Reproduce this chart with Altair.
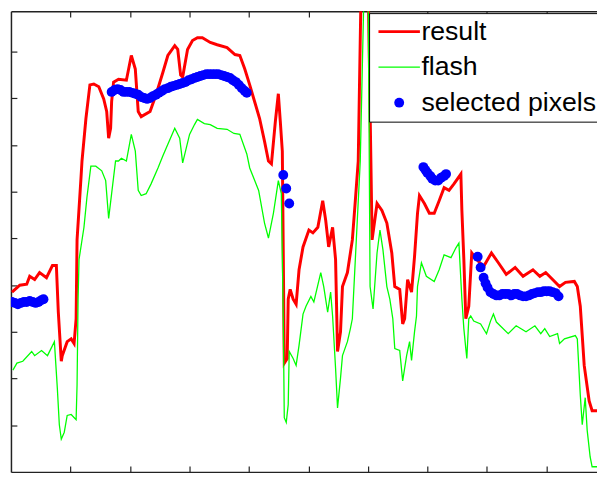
import altair as alt
import pandas as pd

# ---- data ----
result_x = [0.17, 1.49, 2.65, 3.15, 3.98, 4.81, 5.97, 6.97, 7.63, 7.96, 8.46, 8.62, 9.45, 10.12, 10.61,
            10.95, 11.11, 11.77, 11.94, 12.60, 13.27, 13.93, 14.76, 15.59, 16.09, 16.42, 16.75, 16.92,
            17.25, 18.08, 19.40, 20.23, 20.90, 21.39, 21.89, 23.38, 24.38, 25.54, 26.37, 27.53, 28.03,
            28.52, 28.86, 29.68, 30.51, 31.34, 32.17, 33.50, 34.66, 36.32, 37.65, 38.47, 39.30, 40.13,
            40.96, 41.79, 42.62, 43.28, 43.78, 44.44, 44.94, 45.27, 45.61, 45.94, 46.43, 46.60, 46.93,
            47.43, 47.93, 48.42, 49.09, 50.08, 50.75, 51.58, 52.40, 52.90, 53.40, 54.06, 54.56, 54.89,
            55.39, 55.72, 56.55, 57.38, 57.88, 58.37, 58.87, 60.03, 60.70, 61.53, 62.35, 63.18, 64.01,
            64.51, 65.34, 65.84, 66.17, 66.67, 67.33, 67.83, 68.33, 68.66, 69.49, 70.32, 71.14, 71.97,
            72.80, 73.63, 74.46, 75.62, 75.79, 76.12, 76.45, 76.95, 77.45, 78.28, 79.44, 80.76, 81.92,
            83.25, 84.74, 86.07, 87.73, 88.89, 89.88, 91.04, 92.21, 93.20, 94.69, 95.19, 95.69, 96.02,
            96.35, 97.18, 97.68, 98.51]
result_y = [0.385, 0.400, 0.402, 0.419, 0.412, 0.427, 0.416, 0.442, 0.442, 0.342, 0.237, 0.249, 0.279,
            0.285, 0.275, 0.328, 0.497, 0.630, 0.666, 0.757, 0.829, 0.831, 0.825, 0.799, 0.772, 0.715,
            0.736, 0.793, 0.835, 0.841, 0.839, 0.892, 0.863, 0.772, 0.761, 0.772, 0.808, 0.856, 0.892,
            0.913, 0.905, 0.850, 0.846, 0.905, 0.924, 0.930, 0.930, 0.920, 0.915, 0.909, 0.894, 0.892,
            0.863, 0.829, 0.793, 0.757, 0.708, 0.666, 0.660, 0.751, 0.810, 0.751, 0.687, 0.233, 0.243,
            0.370, 0.391, 0.370, 0.359, 0.433, 0.482, 0.518, 0.512, 0.524, 0.581, 0.539, 0.482, 0.524,
            0.455, 0.258, 0.300, 0.397, 0.427, 0.497, 0.581, 0.666, 1.050, 1.050, 0.497, 0.575, 0.560,
            0.533, 0.469, 0.397, 0.391, 0.317, 0.328, 0.412, 0.385, 0.461, 0.554, 0.592, 0.575, 0.554,
            0.554, 0.581, 0.609, 0.603, 0.617, 0.638, 0.560, 0.455, 0.328, 0.355, 0.469, 0.455, 0.440,
            0.469, 0.448, 0.423, 0.438, 0.419, 0.433, 0.419, 0.427, 0.412, 0.397, 0.406, 0.408, 0.397,
            0.355, 0.292, 0.228, 0.152, 0.131, 0.131]

flash_x = [0.33, 1.00, 1.99, 3.48, 3.98, 5.14, 6.14, 7.30, 7.79, 8.13, 8.46, 8.96, 9.45, 10.12, 10.95,
           11.11, 11.28, 11.44, 12.27, 12.77, 13.43, 14.26, 15.26, 15.92, 16.42, 16.92, 17.58, 18.08,
           18.57, 19.40, 20.23, 20.90, 21.39, 21.89, 22.72, 23.55, 24.71, 25.54, 26.37, 27.53, 28.36,
           28.86, 30.02, 30.85, 31.34, 32.50, 33.50, 34.66, 36.32, 37.48, 38.47, 39.64, 40.13, 41.63,
           42.62, 43.28, 44.11, 44.94, 45.44, 45.77, 45.94, 46.27, 46.60, 46.77, 47.43, 47.93, 48.42,
           49.09, 49.59, 50.41, 50.91, 52.07, 52.57, 53.23, 53.73, 54.06, 54.56, 54.89, 55.39, 55.72,
           56.55, 57.05, 57.38, 57.88, 58.71, 59.37, 60.03, 60.36, 60.86, 61.53, 62.02, 62.52, 63.18,
           63.68, 64.18, 64.51, 65.34, 65.84, 66.50, 67.00, 67.33, 67.83, 68.16, 68.33, 68.99, 69.82,
           71.14, 71.97, 72.80, 73.96, 74.79, 75.29, 75.79, 76.12, 76.45, 76.62, 76.95, 77.28, 77.78,
           78.94, 79.93, 80.60, 81.09, 81.59, 83.58, 84.91, 86.57, 88.06, 89.05, 89.72, 90.55, 91.87,
           92.21, 93.03, 94.86, 95.19, 95.69, 96.02, 96.52, 96.85, 97.35, 97.68, 98.51]
flash_y = [0.218, 0.233, 0.237, 0.258, 0.249, 0.260, 0.249, 0.279, 0.180, 0.101, 0.070, 0.085, 0.121,
           0.123, 0.112, 0.186, 0.370, 0.455, 0.524, 0.588, 0.655, 0.655, 0.645, 0.624, 0.543, 0.596,
           0.666, 0.666, 0.672, 0.666, 0.723, 0.687, 0.603, 0.592, 0.596, 0.617, 0.651, 0.677, 0.702,
           0.736, 0.715, 0.662, 0.723, 0.744, 0.755, 0.746, 0.744, 0.736, 0.734, 0.725, 0.723, 0.681,
           0.651, 0.603, 0.533, 0.501, 0.554, 0.624, 0.596, 0.328, 0.116, 0.106, 0.144, 0.258, 0.243,
           0.228, 0.271, 0.338, 0.355, 0.376, 0.364, 0.427, 0.397, 0.342, 0.385, 0.334, 0.222, 0.137,
           0.201, 0.249, 0.279, 0.307, 0.328, 0.455, 0.666, 1.050, 1.050, 0.397, 0.349, 0.469, 0.518,
           0.476, 0.397, 0.370, 0.328, 0.264, 0.260, 0.195, 0.249, 0.279, 0.239, 0.300, 0.334, 0.397,
           0.448, 0.419, 0.408, 0.433, 0.465, 0.459, 0.480, 0.490, 0.370, 0.307, 0.264, 0.243, 0.328,
           0.334, 0.323, 0.317, 0.296, 0.323, 0.338, 0.321, 0.296, 0.313, 0.300, 0.313, 0.296, 0.307,
           0.290, 0.296, 0.275, 0.285, 0.292, 0.285, 0.165, 0.101, 0.159, 0.089, 0.032, 0.011, 0.011]

sel_x = [0.17, 0.66, 1.16, 1.66, 2.16, 2.65, 3.15, 3.65, 4.15, 4.64, 5.14, 5.47,
         16.92, 17.41, 17.91, 18.41, 18.91, 19.40, 19.90, 20.40, 20.90, 21.39, 21.89, 22.39, 22.89,
         23.38, 23.88, 24.38, 24.88, 25.37, 25.87, 26.37, 26.87, 27.36, 27.86, 28.36, 28.86, 29.35,
         29.85, 30.35, 30.85, 31.34, 31.84, 32.34, 32.84, 33.33, 33.83, 34.33, 34.83, 35.32, 35.82,
         36.32, 36.82, 37.31, 37.81, 38.31, 38.81, 39.30, 39.64,
         45.77, 46.27, 46.77,
         69.32, 69.65, 69.98, 70.48, 70.81, 71.31, 71.81, 72.30, 72.80, 73.13,
         78.44, 78.94, 79.44, 79.77, 80.10, 80.60, 81.09, 81.59, 82.09, 82.59, 83.08, 83.58, 84.08,
         84.58, 85.07, 85.57, 86.07, 86.57, 87.06, 87.56, 88.06, 88.56, 89.05, 89.55, 90.05, 90.55,
         91.04, 91.54, 92.04]
sel_y = [0.364, 0.362, 0.359, 0.362, 0.364, 0.364, 0.366, 0.364, 0.362, 0.364, 0.368, 0.370,
         0.814, 0.818, 0.820, 0.818, 0.814, 0.814, 0.814, 0.812, 0.810, 0.808, 0.803, 0.801, 0.799,
         0.801, 0.805, 0.808, 0.812, 0.816, 0.820, 0.822, 0.825, 0.827, 0.829, 0.831, 0.833, 0.835,
         0.839, 0.841, 0.844, 0.846, 0.848, 0.850, 0.852, 0.852, 0.852, 0.852, 0.852, 0.850, 0.848,
         0.846, 0.844, 0.839, 0.835, 0.829, 0.822, 0.816, 0.812,
         0.636, 0.607, 0.575,
         0.653, 0.647, 0.641, 0.634, 0.628, 0.624, 0.624, 0.630, 0.634, 0.638,
         0.461, 0.438, 0.416, 0.404, 0.395, 0.385, 0.381, 0.378, 0.378, 0.381, 0.381, 0.381, 0.378,
         0.381, 0.381, 0.378, 0.376, 0.376, 0.378, 0.381, 0.383, 0.385, 0.385, 0.387, 0.387, 0.387,
         0.385, 0.383, 0.376]

series_names = ["result", "flash", "selected pixels"]
series_colors = ["#ff0000", "#00ff00", "#0000ff"]
series_widths = [3, 1.3, 0]
series_shapes = ["stroke", "stroke", "circle"]
series_sizes = [1764, 1764, 100]
x_ticks = [10, 20, 30, 40, 50, 60, 70, 80, 90]
y_ticks = [0.1, 0.2, 0.3, 0.4, 0.5, 0.6, 0.7, 0.8, 0.9]

lines = pd.DataFrame({
    "x": result_x + flash_x,
    "y": result_y + flash_y,
    "series": ["result"] * len(result_x) + ["flash"] * len(flash_x),
})
pts = pd.DataFrame({"x": sel_x, "y": sel_y, "series": ["selected pixels"] * len(sel_x)})

W, H = 594, 467
xscale = alt.Scale(domain=[0, 98.5], nice=False, zero=False)
yscale = alt.Scale(domain=[0, 0.987], nice=False, zero=False)

axis_style = dict(labels=False, title=None, grid=False, ticks=True, tickSize=6,
                  tickColor="#222222", domainColor="#222222", tickWidth=1.2, domainWidth=1.5)

x_bottom = alt.Axis(values=x_ticks, orient="top", offset=-H, **axis_style)
x_top = alt.Axis(values=x_ticks, orient="bottom", offset=-H, **axis_style)
y_left = alt.Axis(values=y_ticks, orient="right", offset=-W, **axis_style)

legend = alt.Legend(
    title=None, orient="none", legendX=363, legendY=2,
    fillColor="white", strokeColor="black", padding=1,
    symbolOffset=7, clipHeight=35.5, rowPadding=0, labelOffset=0,
    labelFont="Liberation Sans", labelFontSize=27, labelColor="black", labelLimit=400,
    symbolOpacity=1,
)

color_enc = alt.Color("series:N", scale=alt.Scale(domain=series_names, range=series_colors),
                      legend=legend, sort=series_names)
width_enc = alt.StrokeWidth("series:N",
                            scale=alt.Scale(type="ordinal", domain=series_names, range=series_widths),
                            legend=legend, sort=series_names)

line_layer = alt.Chart(lines).mark_line(clip=True, opacity=1).encode(
    x=alt.X("x:Q", scale=xscale, axis=x_bottom),
    y=alt.Y("y:Q", scale=yscale, axis=y_left),
    color=color_enc,
    strokeWidth=width_enc,
)

pts_layer = alt.Chart(pts).mark_point(clip=True, filled=True, opacity=1).encode(
    x=alt.X("x:Q", scale=xscale, axis=x_top),
    y=alt.Y("y:Q", scale=yscale, axis=None),
    color=color_enc,
    strokeWidth=width_enc,
    shape=alt.Shape("series:N", scale=alt.Scale(domain=series_names, range=series_shapes),
                    legend=legend, sort=series_names),
    size=alt.Size("series:N",
                  scale=alt.Scale(type="ordinal", domain=series_names, range=series_sizes),
                  legend=legend, sort=series_names),
)

chart = alt.layer(line_layer, pts_layer).resolve_axis(
    x="independent", y="independent"
).properties(
    width=W, height=H,
    padding={"left": 3, "top": 0, "right": 0, "bottom": 3},
    autosize=alt.AutoSizeParams(type="none"),
    background="white",
).configure_view(stroke=None)

chart.save("out.html", embed_options={"renderer": "svg", "actions": False})
